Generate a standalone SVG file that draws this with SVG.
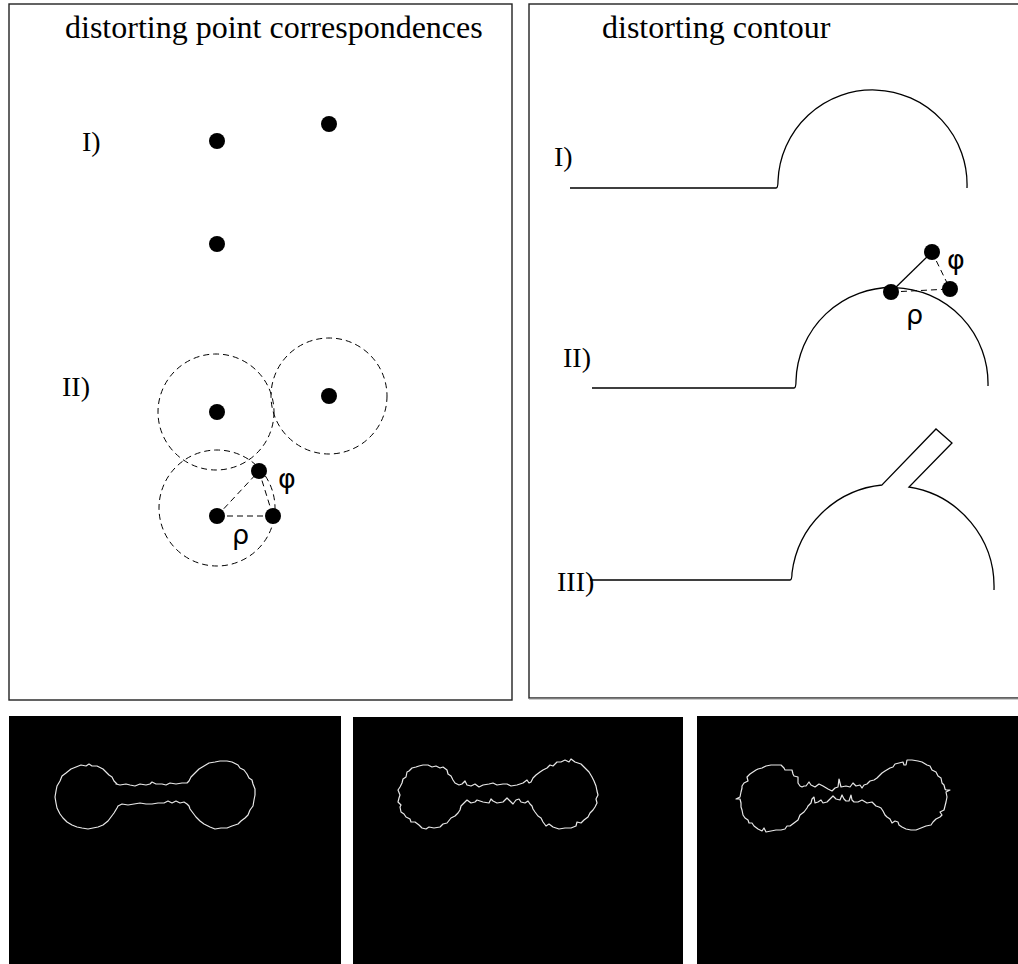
<svg xmlns="http://www.w3.org/2000/svg" width="1018" height="964" viewBox="0 0 1018 964">
<style>
.frame{fill:#fff;stroke:#222;stroke-width:1.4}
.t{font-family:"Liberation Serif",serif;font-size:32px;fill:#000}
.n{font-family:"Liberation Serif",serif;font-size:28px;fill:#000}
.g{font-family:"DejaVu Sans",sans-serif;font-size:27px;fill:#000}
.dot{fill:#000}
.dc{fill:none;stroke:#000;stroke-width:1;stroke-dasharray:6,4}
.sl{fill:none;stroke:#000;stroke-width:1.3}
.cv{fill:none;stroke:#e8e8e8;stroke-width:1.2;stroke-linejoin:round}
</style>
<rect width="1018" height="964" fill="#fff"/>
<g id="panel-points">
<rect class="frame" x="9" y="4" width="503" height="696"/>
<text class="t" x="65" y="38">distorting point correspondences</text>
<text class="n" x="82" y="151">I)</text>
<text class="n" x="62" y="396">II)</text>
<circle class="dot" cx="217" cy="141" r="8"/>
<circle class="dot" cx="329" cy="124" r="8"/>
<circle class="dot" cx="217" cy="244" r="8"/>
<circle class="dc" cx="216" cy="412" r="58"/>
<circle class="dc" cx="329" cy="396" r="58"/>
<circle class="dc" cx="217" cy="508" r="58"/>
<line class="dc" x1="217" y1="516" x2="259" y2="471"/>
<line class="dc" x1="217" y1="516" x2="273" y2="516"/>
<line class="dc" x1="259" y1="471" x2="273" y2="516"/>
<circle class="dot" cx="217" cy="412" r="8"/>
<circle class="dot" cx="329" cy="396" r="8"/>
<circle class="dot" cx="259" cy="471" r="8"/>
<circle class="dot" cx="217" cy="516" r="8"/>
<circle class="dot" cx="273" cy="516" r="8"/>
<text class="g" x="278" y="488">φ</text>
<text class="g" x="232" y="544">ρ</text>
</g>
<g id="panel-contour">
<rect class="frame" x="529" y="4" width="495" height="694"/>
<line x1="529" y1="699" x2="1018" y2="699" stroke="#999" stroke-width="1"/>
<text class="t" x="602" y="38">distorting contour</text>
<text class="n" x="554" y="166">I)</text>
<text class="n" x="563" y="367">II)</text>
<text class="n" x="557" y="591">III)</text>
<path class="sl" d="M570,188 L776,188 Q778,188 778,181 A94,94 0 0 1 967,188"/>
<path class="sl" d="M592,388 L794,388 Q796,388 796,381 A96,96 0 0 1 988,386"/>
<line class="sl" x1="891" y1="292" x2="932" y2="252"/>
<line class="dc" x1="891" y1="292" x2="950" y2="289"/>
<line class="dc" x1="932" y1="252" x2="950" y2="289"/>
<circle class="dot" cx="891" cy="292" r="8"/>
<circle class="dot" cx="932" cy="252" r="8"/>
<circle class="dot" cx="950" cy="289" r="8"/>
<text class="g" x="947" y="269">φ</text>
<text class="g" x="906" y="324">ρ</text>
<path class="sl" d="M590,580 L790,580 Q792,580 792,573 A101,101 0 0 1 882,485 L936,429 L952,443 L909,487 A101,101 0 0 1 994,590"/>
</g>
<g id="image-1">
<rect x="9" y="716" width="332" height="248" fill="#000"/>
<path class="cv" d="M116,784 L120,785 L126,784 L130,785 L135,786 L140,784 L146,785 L150,784 L152,782 L156,784 L162,784 L166,785 L170,783 L176,784 L182,783 L187,783 L189,781 L191,777 L195,773 L199,769 L204,766 L209,763 L215,762 L220,761 L227,761 L232,762 L238,765 L240,768 L244,770 L247,774 L249,778 L252,780 L253,784 L255,789 L255,795 L254,800 L253,806 L250,810 L248,815 L245,818 L241,821 L238,824 L232,826 L227,828 L221,828 L215,829 L210,827 L204,824 L200,821 L196,817 L193,813 L190,809 L189,806 L187,804 L184,802 L180,803 L176,801 L172,803 L168,801 L164,803 L158,803 L152,804 L146,804 L140,803 L134,804 L128,805 L122,804 L118,806 L117,808 L114,813 L111,817 L108,821 L103,825 L98,827 L93,828 L88,829 L82,828 L77,827 L72,825 L67,822 L63,818 L60,814 L57,808 L56,803 L55,797 L56,791 L57,786 L60,781 L62,776 L66,773 L71,769 L76,767 L81,765 L86,766 L89,764 L92,766 L97,766 L103,769 L106,772 L109,775 L112,777 L114,781 L117,784 Z"/>
</g>
<g id="image-2">
<rect x="353" y="717" width="330" height="247" fill="#000"/>
<path class="cv" transform="translate(343,0)" d="M116,785 L119,784 L122,781 L124,785 L128,786 L132,784 L136,787 L140,785 L146,784 L150,783 L154,785 L160,784 L164,784 L168,786 L174,785 L180,783 L184,780 L186,783 L188,782 L190,778 L193,775 L197,772 L200,770 L204,768 L207,765 L210,766 L214,762 L218,762 L222,760 L226,762 L228,759 L232,762 L238,764 L242,768 L246,772 L249,777 L251,781 L253,786 L254,791 L255,795 L253,799 L254,803 L252,807 L250,810 L247,813 L245,817 L241,820 L238,823 L234,822 L233,826 L228,828 L222,828 L216,829 L210,827 L206,824 L203,826 L200,822 L198,818 L195,816 L192,812 L190,809 L189,806 L187,804 L185,801 L182,803 L178,802 L176,799 L173,800 L170,804 L166,800 L164,798 L160,802 L154,803 L150,801 L148,799 L146,803 L140,802 L134,800 L132,802 L128,803 L124,800 L121,803 L118,806 L117,810 L115,813 L112,816 L108,818 L104,823 L100,824 L97,827 L91,828 L86,827 L83,829 L79,828 L76,825 L72,822 L68,822 L67,819 L63,817 L61,814 L58,812 L57,807 L58,805 L55,802 L56,798 L57,795 L55,790 L57,787 L59,783 L60,779 L63,777 L64,772 L66,771 L69,768 L73,767 L76,766 L80,765 L85,765 L89,767 L93,766 L97,768 L100,767 L104,770 L105,774 L108,776 L110,780 L112,783 L114,784 Z"/>
</g>
<g id="image-3">
<rect x="697" y="716" width="321" height="248" fill="#000"/>
<path class="cv" transform="translate(686,0)" d="M120,786 L123,782 L125,785 L129,787 L133,784 L137,786 L142,789 L146,791 L149,788 L152,787 L153,779 L155,787 L160,786 L164,787 L167,783 L170,786 L174,785 L176,788 L178,785 L181,784 L184,781 L188,780 L191,778 L193,776 L196,773 L199,771 L204,768 L207,767 L209,764 L213,763 L217,762 L218,765 L220,765 L221,760 L226,760 L232,761 L236,762 L241,765 L244,766 L246,770 L250,772 L252,776 L255,778 L256,783 L258,785 L259,789 L260,790 L264,790 L260,792 L261,797 L260,802 L259,806 L258,810 L254,812 L256,815 L254,817 L250,819 L247,822 L245,825 L240,826 L235,828 L230,830 L225,830 L220,829 L216,827 L213,825 L212,822 L209,821 L206,823 L204,819 L201,817 L199,815 L197,811 L195,808 L193,807 L190,806 L186,802 L181,803 L176,800 L172,802 L168,802 L166,800 L165,795 L163,801 L160,801 L158,799 L156,795 L154,800 L150,799 L147,796 L144,799 L141,802 L137,803 L135,800 L132,802 L129,803 L128,797 L126,799 L125,803 L122,806 L121,808 L118,812 L114,815 L112,820 L108,823 L104,826 L101,826 L99,829 L95,830 L90,830 L85,831 L80,832 L78,828 L76,831 L72,829 L68,826 L66,823 L63,823 L62,820 L59,818 L57,815 L56,810 L55,807 L55,803 L54,799 L50,799 L54,797 L55,792 L56,788 L56,786 L58,783 L62,781 L61,777 L64,774 L67,772 L70,770 L72,769 L76,768 L80,766 L85,765 L90,765 L95,765 L98,768 L99,770 L102,770 L106,770 L107,774 L108,776 L112,777 L112,783 L114,786 L116,787 L118,786 Z"/>
</g>
</svg>
